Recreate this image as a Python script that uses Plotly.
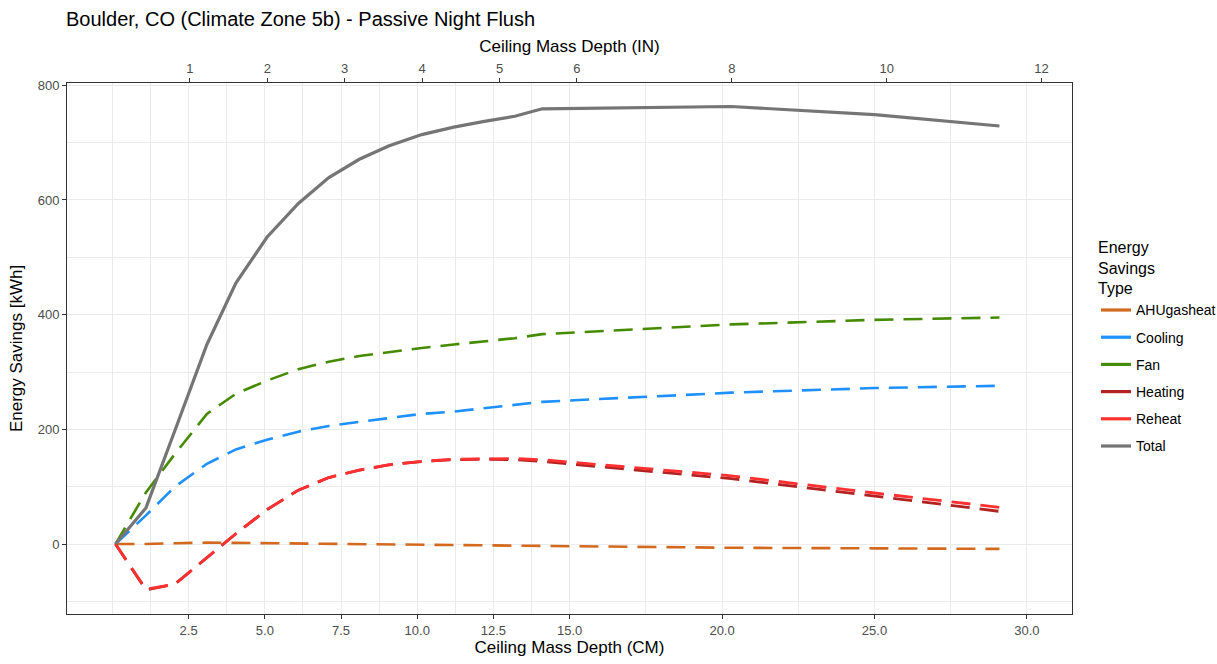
import plotly.graph_objects as go

# ---------------- data ----------------
depth_cm = [0.1, 1.1, 2.05, 3.1, 4.05, 5.07, 6.1, 7.1, 8.1, 9.06, 10.15,
            11.2, 12.2, 13.2, 14.1, 20.3, 25.0, 29.1]

ahugasheat = [0, 0, 1.5, 2.5, 2, 1.5, 0.5, 0, -0.5, -1.5, -2,
              -2.5, -3, -3.5, -4, -6.5, -7.5, -8.5]
cooling = [0, 50, 100, 140, 165, 182, 196, 206, 213, 220, 227,
           231, 237, 242, 248, 264, 272, 276]
fan = [0, 90, 157, 227, 262, 285, 305, 318, 328, 335, 342,
       348, 354, 359, 366, 383, 391, 395]
heating = [0, -80, -70, -23, 18, 60, 94, 116, 129, 138, 144,
           147, 148, 147, 144, 114, 84, 57]
reheat = [0, -79, -70, -23, 18, 60, 94, 116, 129, 138, 144,
          148, 149, 149, 147, 119, 89, 64]
total = [0, 63, 198, 348, 455, 535, 594, 639, 671, 694, 714,
         727, 737, 746, 759, 763, 749, 729]

series_names = ["AHUgasheat", "Cooling", "Fan", "Heating", "Reheat", "Total"]
series_values = [ahugasheat, cooling, fan, heating, reheat, total]
series_colors = ["#D2691E", "#1E90FF", "#458B00", "#B22222", "#FF3030", "#757575"]
series_dash = ["19px,10px"] * 5 + ["solid"]
series_width = [2.6, 2.6, 2.6, 2.8, 2.8, 3.2]

cm_ticks = [2.5, 5.0, 7.5, 10.0, 12.5, 15.0, 20.0, 25.0, 30.0]
cm_minor = [0.0, 1.25, 3.75, 6.25, 8.75, 11.25, 13.75, 17.5, 22.5, 27.5]
in_ticks = [1, 2, 3, 4, 5, 6, 8, 10, 12]
y_ticks = [0, 200, 400, 600, 800]

CM_PER_IN = 2.54
x_range = [-1.49, 31.48]
y_range = [-122, 804]

FONT = "Liberation Sans, Arial, sans-serif"

fig = go.Figure()

for name, vals, col, dsh, w in zip(series_names, series_values, series_colors,
                                   series_dash, series_width):
    fig.add_trace(go.Scatter(x=depth_cm, y=vals, mode="lines", name=name,
                             line=dict(color=col, width=w, dash=dsh),
                             showlegend=False, legendgroup=name))

# legend keys (solid, as in the reference)
for name, col in zip(series_names, series_colors):
    fig.add_trace(go.Scatter(x=[None], y=[None], mode="lines", name=name,
                             line=dict(color=col, width=3.2),
                             showlegend=True, legendgroup=name,
                             hoverinfo="skip"))

# invisible trace to carry the top (inch) axis
fig.add_trace(go.Scatter(x=[None], y=[None], xaxis="x2", showlegend=False,
                         hoverinfo="skip"))

axis_common = dict(
    showline=True, linecolor="#333333", linewidth=1,
    ticks="outside", ticklen=4, tickcolor="#333333", tickwidth=1,
    tickfont=dict(family=FONT, size=13, color="#4D4D4D"),
    showgrid=True, gridcolor="#EBEBEB", gridwidth=1.1,
    zeroline=False,
)

fig.update_layout(
    width=1217, height=664,
    margin=dict(l=67, r=145, t=83, b=48),
    paper_bgcolor="white", plot_bgcolor="white",
    font=dict(family=FONT, color="black"),
    title=dict(text="Boulder, CO (Climate Zone 5b) - Passive Night Flush",
               x=66 / 1217, xanchor="left", xref="container",
               y=1 - 19 / 664, yanchor="middle", yref="container",
               font=dict(family=FONT, size=20, color="black")),
    xaxis=dict(
        range=x_range, tickmode="array", tickvals=cm_ticks,
        ticktext=[f"{v:.1f}" for v in cm_ticks],
        minor=dict(tickmode="array", tickvals=cm_minor, showgrid=True,
                   gridcolor="#EBEBEB", gridwidth=0.6, ticks=""),
        mirror=True,
        title=dict(text="Ceiling Mass Depth (CM)", standoff=3,
                   font=dict(family=FONT, size=17, color="black")),
        **axis_common,
    ),
    xaxis2=dict(
        overlaying="x", side="top", anchor="y",
        range=x_range, tickmode="array",
        tickvals=[v * CM_PER_IN for v in in_ticks],
        ticktext=[str(v) for v in in_ticks],
        showline=True, linecolor="#333333", linewidth=1,
        ticks="outside", ticklen=4, tickcolor="#333333", tickwidth=1,
        tickfont=dict(family=FONT, size=13, color="#4D4D4D"),
        showgrid=False, zeroline=False,
        title=dict(text="Ceiling Mass Depth (IN)", standoff=3,
                   font=dict(family=FONT, size=17, color="black")),
    ),
    yaxis=dict(
        range=y_range, tickmode="array", tickvals=y_ticks,
        ticktext=[str(v) for v in y_ticks],
        minor=dict(tickmode="array", tickvals=[-100, 100, 300, 500, 700],
                   showgrid=True, gridcolor="#EBEBEB", gridwidth=0.6, ticks=""),
        mirror=True,
        title=dict(text="Energy Savings [kWh]", standoff=10,
                   font=dict(family=FONT, size=17, color="black")),
        **axis_common,
    ),
    legend=dict(
        title=dict(text="Energy<br>Savings<br>Type",
                   font=dict(family=FONT, size=16, color="black")),
        xref="container", yref="container",
        x=1096 / 1217, xanchor="left",
        y=1 - 232 / 664, yanchor="top",
        font=dict(family=FONT, size=14, color="black"),
        tracegroupgap=6, itemwidth=30,
        bgcolor="rgba(0,0,0,0)",
    ),
)

fig.write_html("out.html")
